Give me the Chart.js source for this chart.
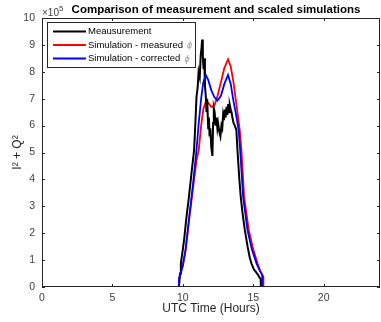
<!DOCTYPE html>
<html>
<head>
<meta charset="utf-8">
<script src="https://cdn.jsdelivr.net/npm/chart.js@4.4.1/dist/chart.umd.min.js"></script>
<style>
  html, body { margin: 0; padding: 0; background: #fff; }
  #wrap { width: 381px; height: 322px; }
</style>
</head>
<body>
<div id="wrap"><canvas id="chart"></canvas></div>
<script>
// values in units of 1e5
const measTime = [0, 9.7, 9.74, 9.8, 9.86, 10.0, 10.1, 10.26, 10.4, 10.54, 10.65, 10.8, 10.9, 10.97, 11.05, 11.12, 11.2, 11.27, 11.33, 11.37,
    11.42, 11.47, 11.52, 11.57, 11.63, 11.68, 11.73, 11.8, 11.85, 11.9, 11.95, 12.02, 12.1, 12.15, 12.2, 12.26, 12.32, 12.38, 12.45,
    12.5, 12.58, 12.67, 12.74, 12.8, 12.86, 12.92, 12.98, 13.04, 13.1, 13.16, 13.22, 13.28, 13.33, 13.4, 13.46, 13.52, 13.6, 13.69,
    13.8, 13.88, 14.0, 14.11, 14.25, 14.4, 14.6, 14.75, 14.87, 15.05, 15.2, 15.34, 15.45, 15.53, 15.54, 24];
const measVals = [0, 0, 0.1, 0.5, 0.88, 1.4, 1.8, 2.61, 3.2, 3.86, 4.4, 5.09, 6.2, 7.07, 7.4, 8.0, 7.8, 8.6, 8.9, 9.2,
    8.6, 8.1, 8.5, 7.5, 7.1, 6.5, 7.0, 5.9, 6.3, 5.6, 5.9, 5.2, 4.87, 6.1, 6.65, 6.5, 6.0, 6.3, 5.9,
    6.1, 5.8, 5.6, 6.0, 5.9, 6.4, 6.2, 6.6, 6.3, 6.7, 6.4, 6.8, 6.5, 6.77, 6.6, 6.5, 6.3, 6.1, 6.0,
    5.84, 5.09, 4.1, 3.36, 2.7, 2.12, 1.5, 1.1, 0.88, 0.65, 0.55, 0.45, 0.35, 0.3, 0, 0];

const simMeasTime = [0, 9.72, 9.73, 10.0, 10.2, 10.45, 10.73, 10.97, 11.13, 11.3, 11.45, 11.63, 11.8, 12.03, 12.25, 12.46, 12.7,
    12.95, 13.21, 13.4, 13.6, 13.8, 14.04, 14.16, 14.35, 14.68, 15.0, 15.3, 15.5, 15.7, 15.72, 24];
const simMeasVals = [0, 0, 0.3, 0.8, 1.4, 2.5, 3.7, 4.7, 5.09, 6.0, 6.6, 6.89, 6.85, 6.69, 6.75, 7.1, 7.6,
    8.15, 8.46, 8.2, 7.6, 6.8, 5.84, 5.09, 3.36, 2.12, 1.4, 0.88, 0.6, 0.4, 0, 0];

const simCorrTime = [0, 9.72, 9.73, 10.0, 10.2, 10.45, 10.73, 10.97, 11.13, 11.3, 11.45, 11.63, 11.8, 12.03, 12.25, 12.46, 12.7,
    12.95, 13.21, 13.4, 13.6, 13.8, 13.97, 14.07, 14.28, 14.59, 14.9, 15.23, 15.45, 15.63, 15.65, 24];
const simCorrVals = [0, 0, 0.3, 0.8, 1.4, 2.6, 3.86, 5.09, 6.1, 7.0, 7.6, 7.88, 7.7, 7.3, 7.05, 6.93, 7.1,
    7.55, 7.88, 7.55, 6.9, 6.35, 5.8, 5.1, 3.36, 2.12, 1.4, 0.88, 0.62, 0.45, 0, 0];

const xTicks = [0, 5, 10, 15, 20];
const yTicks = [0, 1, 2, 3, 4, 5, 6, 7, 8, 9, 10];
const seriesNames = ['Meausurement', 'Simulation - measured', 'Simulation - corrected'];
const seriesColors = ['#000000', '#ff0000', '#0000ff'];

const axisColor = '#262626';
const font = '"Liberation Sans", Arial, sans-serif';

function pts(t, v) {
    return t.map((x, i) => ({ x: x, y: v[i] }));
}

const matlabBox = {
    id: 'matlabBox',
    afterDraw(chart) {
        const ctx = chart.ctx;
        const a = chart.chartArea;
        const xs = chart.scales.x, ys = chart.scales.y;
        ctx.save();
        ctx.strokeStyle = axisColor;
        ctx.lineWidth = 1;
        ctx.strokeRect(a.left + 0.5, a.top + 0.5, a.right - a.left - 1, a.bottom - a.top - 1);
        ctx.beginPath();
        xTicks.forEach(v => {
            const px = Math.round(xs.getPixelForValue(v)) + 0.5;
            ctx.moveTo(px, a.bottom); ctx.lineTo(px, a.bottom - 3);
            ctx.moveTo(px, a.top); ctx.lineTo(px, a.top + 3);
        });
        yTicks.forEach(v => {
            const py = Math.round(ys.getPixelForValue(v)) + 0.5;
            ctx.moveTo(a.left, py); ctx.lineTo(a.left + 3, py);
            ctx.moveTo(a.right, py); ctx.lineTo(a.right - 3, py);
        });
        ctx.stroke();

        // exponent
        ctx.fillStyle = '#404040';
        ctx.font = '10px ' + font;
        ctx.textAlign = 'left';
        ctx.textBaseline = 'middle';
        ctx.fillText('\u00D710', 42, 13);
        ctx.font = '8px ' + font;
        ctx.fillText('5', 59, 9);

        // title
        ctx.fillStyle = '#000';
        ctx.font = 'bold 11.5px ' + font;
        ctx.textAlign = 'center';
        ctx.fillText('Comparison of measurement and scaled simulations', 216, 10);

        // axis labels
        ctx.fillStyle = '#262626';
        ctx.font = '12px ' + font;
        ctx.fillText('UTC Time (Hours)', (a.left + a.right) / 2, 309);
        ctx.save();
        ctx.translate(18, (a.top + a.bottom) / 2);
        ctx.rotate(-Math.PI / 2);
        ctx.fillText('I\u00B2 + Q\u00B2', 0, 0);
        ctx.restore();

        // legend
        const lx = 47, ly = 22, lw = 148, lh = 45;
        ctx.fillStyle = '#fff';
        ctx.fillRect(lx, ly, lw, lh);
        ctx.strokeStyle = axisColor;
        ctx.strokeRect(lx + 0.5, ly + 0.5, lw, lh);
        ctx.textAlign = 'left';
        seriesNames.forEach((name, i) => {
            const y = ly + 9.5 + i * 13.5;
            ctx.strokeStyle = seriesColors[i];
            ctx.lineWidth = 1.8;
            ctx.beginPath();
            ctx.moveTo(53, y); ctx.lineTo(86, y);
            ctx.stroke();
            ctx.fillStyle = '#000';
            ctx.font = '9.5px ' + font;
            ctx.fillText(name, 88, y);
            if (i > 0) {
                const w = ctx.measureText(name).width;
                ctx.fillStyle = '#999';
                ctx.font = 'italic 8px "DejaVu Sans", sans-serif';
                ctx.fillText('\u03D5', 88 + w + 4, y + 1);
            }
        });
        ctx.restore();
    }
};

const chart = new Chart(document.getElementById('chart'), {
    type: 'line',
    data: {
        datasets: [
            { label: 'Meausurement', data: pts(measTime, measVals), borderColor: seriesColors[0], borderWidth: 2, order: 1 },
            { label: 'Simulation - measured \u03D5', data: pts(simMeasTime, simMeasVals), borderColor: seriesColors[1], borderWidth: 1.8, order: 2 },
            { label: 'Simulation - corrected \u03D5', data: pts(simCorrTime, simCorrVals), borderColor: seriesColors[2], borderWidth: 1.8, order: 0 }
        ]
    },
    options: {
        responsive: true,
        maintainAspectRatio: false,
        animation: false,
        elements: { point: { radius: 0 }, line: { tension: 0 } },
        layout: { padding: { top: 18, right: 1, left: 0, bottom: 0 } },
        plugins: {
            legend: { display: false },
            tooltip: { enabled: false },
            title: { display: false }
        },
        scales: {
            x: {
                type: 'linear',
                min: 0,
                max: 24,
                grid: { display: false, drawTicks: false },
                border: { display: false },
                afterBuildTicks: s => { s.ticks = xTicks.map(v => ({ value: v })); },
                afterFit: s => { s.height = 35; },
                ticks: { color: '#404040', font: { family: font, size: 10.5 }, padding: 5, maxRotation: 0 }
            },
            y: {
                min: 0,
                max: 10,
                grid: { display: false, drawTicks: false },
                border: { display: false },
                afterBuildTicks: s => { s.ticks = yTicks.map(v => ({ value: v })); },
                afterFit: s => { s.width = 42; },
                ticks: { color: '#404040', font: { family: font, size: 10.5 }, padding: 7 }
            }
        }
    },
    plugins: [matlabBox]
});
</script>
</body>
</html>
